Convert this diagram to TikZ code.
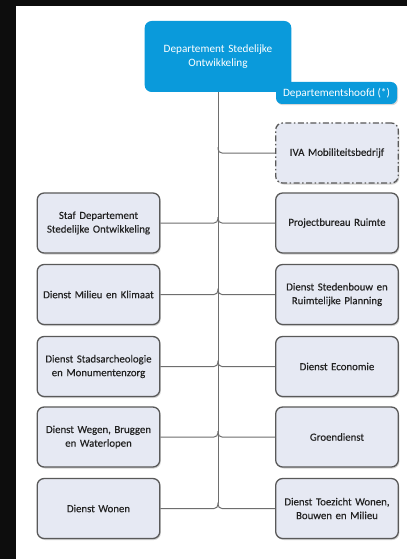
\documentclass[tikz,border=0pt]{standalone}
\usepackage{fontspec}
\setmainfont{Carlito}
\newfontfamily\boxfont[FakeBold=0.25]{Carlito}
\usetikzlibrary{shadows,calc}
\definecolor{deptblue}{HTML}{0A9ADB}
\definecolor{boxfill}{HTML}{E6E9F3}
\definecolor{boxline}{HTML}{595959}
\definecolor{connline}{HTML}{6E6E6E}
\definecolor{txt}{HTML}{222222}
\definecolor{frame}{HTML}{0D0D0D}
\tikzset{
  unitbox/.style={draw=boxline, line width=1.3pt, fill=boxfill, rounded corners=7pt,
    minimum width=119pt, minimum height=60pt, text width=116pt, align=center,
    text=txt, font=\boxfont\fontsize{10.8}{13.7}\selectfont,
    drop shadow={shadow xshift=1pt, shadow yshift=-1.5pt, opacity=0.35, fill=gray}},
  ivabox/.style={unitbox, dash pattern=on 6pt off 2.5pt on 1.5pt off 2.5pt},
  headbox/.style={fill=deptblue, rounded corners=7pt, minimum width=142pt, minimum height=71pt,
    text width=140pt, align=center, text=white, font=\fontsize{11.2}{13.7}\selectfont},
  labelbox/.style={fill=deptblue, rounded corners=6pt, minimum width=121pt, minimum height=22pt,
    inner sep=0pt, align=center, text=white, font=\fontsize{11.2}{13.7}\selectfont,
    drop shadow={shadow xshift=1pt, shadow yshift=-1.2pt, opacity=0.3, fill=gray}},
  conn/.style={draw=connline, line width=1pt, rounded corners=4pt},
}
\begin{document}
\begin{tikzpicture}[x=1pt,y=-1pt]
\useasboundingbox (0,0) rectangle (407,559);
\fill[frame] (0,0) rectangle (407,559);
\fill[white] (16,6.5) rectangle (407,559);

\node[headbox] (top) at (218,56.5) {Departement Stedelijke\\Ontwikkeling};
\node[labelbox] (head) at (336.5,93) {Departementshoofd (*)};

\node[ivabox] (iva) at (337,153) {IVA Mobiliteitsbedrijf};

\node[unitbox] (L1) at (98.5,223) {Staf Departement\\Stedelijke Ontwikkeling};
\node[unitbox] (L2) at (98.5,294.5) {Dienst Milieu en Klimaat};
\node[unitbox] (L3) at (98.5,366.5) {Dienst Stadsarcheologie\\en Monumentenzorg};
\node[unitbox] (L4) at (98.5,437) {Dienst Wegen, Bruggen\\en Waterlopen};
\node[unitbox] (L5) at (98.5,508.5) {Dienst Wonen};

\node[unitbox] (R1) at (337,223) {Projectbureau Ruimte};
\node[unitbox] (R2) at (337,294.5) {Dienst Stedenbouw en\\Ruimtelijke Planning};
\node[unitbox] (R3) at (337,366.5) {Dienst Economie};
\node[unitbox] (R4) at (337,437) {Groendienst};
\node[unitbox] (R5) at (337,508.5) {Dienst Toezicht Wonen,\\Bouwen en Milieu};

\coordinate (t0) at (218,153);
\coordinate (t1) at (218,223);
\coordinate (t2) at (218,294.5);
\coordinate (t3) at (218,366.5);
\coordinate (t4) at (218,437);
\coordinate (t5) at (218,508.5);

\draw[conn] (top.south) -- ([yshift=6pt]t5);
\draw[conn] (iva.west) -| ([yshift=6pt]t0);
\foreach \i in {1,...,5}{
  \draw[conn] (L\i.east) -| ([yshift=6pt]t\i);
  \draw[conn] (R\i.west) -| ([yshift=6pt]t\i);
}
\end{tikzpicture}
\end{document}
